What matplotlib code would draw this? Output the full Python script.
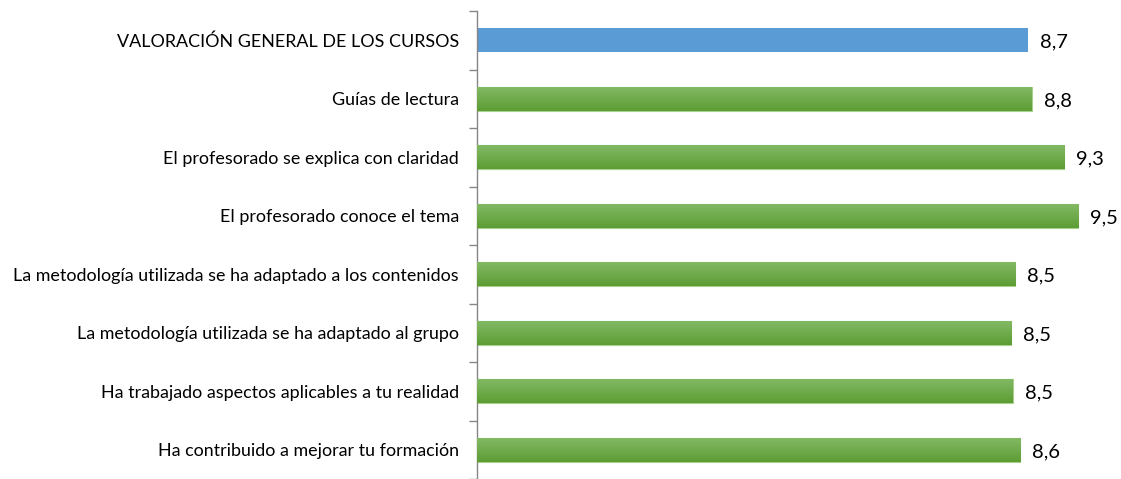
import matplotlib.pyplot as plt
import numpy as np
from matplotlib.colors import LinearSegmentedColormap

# categories top to bottom
labels = [
    "VALORACIÓN GENERAL DE LOS CURSOS",
    "Guías de lectura",
    "El profesorado se explica con claridad",
    "El profesorado conoce el tema",
    "La metodología utilizada se ha adaptado a los contenidos",
    "La metodología utilizada se ha adaptado al grupo",
    "Ha trabajado aspectos aplicables a tu realidad",
    "Ha contribuido a mejorar tu formación",
]
values = [8.71, 8.76, 9.28, 9.5, 8.50, 8.44, 8.46, 8.58]
shown = ["8,7", "8,8", "9,3", "9,5", "8,5", "8,5", "8,5", "8,6"]

plt.rcParams['font.family'] = ['Lato', 'DejaVu Sans']

fig = plt.figure(figsize=(11.21, 4.79), dpi=100)
ax = fig.add_axes([477 / 1121, 0.0, (1110 - 477) / 1121, 1 - 11 / 479])

y = np.arange(len(labels))
colors = ["#5b9bd5"] + ["#6aaa3f"] * (len(labels) - 1)
bars = ax.barh(y, values, height=0.41, color=colors, zorder=2)

# vertical gradient for the green bars
grad = np.linspace(0, 1, 64).reshape(-1, 1)
cmap = LinearSegmentedColormap.from_list("g", ["#82b964", "#5d9d34"])
for i, b in enumerate(bars):
    if i == 0:
        continue
    x0, y0, w, h = b.get_x(), b.get_y(), b.get_width(), b.get_height()
    ax.imshow(grad, cmap=cmap, aspect='auto', extent=[x0, x0 + w, y0 + h, y0],
              zorder=3, interpolation='bilinear')
    b.set_edgecolor("#a9d18e")
    b.set_linewidth(0.8)

for b, s in zip(bars, shown):
    ax.text(b.get_width() + 0.19, b.get_y() + b.get_height() / 2 + 0.03, s,
            va='center', ha='left', fontsize=14.5, color='#000000')

ax.set_xlim(0, 10)
ax.set_ylim(len(labels) - 0.5, -0.5)
ax.set_yticks(y)
ax.set_yticklabels(labels, fontsize=12.9)
ax.set_yticks(np.arange(-0.5, len(labels), 1), minor=True)
ax.tick_params(axis='y', which='major', length=0, pad=13)
ax.tick_params(axis='y', which='minor', length=6, color='#868686', width=1)
ax.set_xticks([])

for sp in ['top', 'right', 'bottom']:
    ax.spines[sp].set_visible(False)
ax.spines['left'].set_color('#868686')
ax.spines['left'].set_linewidth(1)

fig.savefig("out.png", dpi=100)
